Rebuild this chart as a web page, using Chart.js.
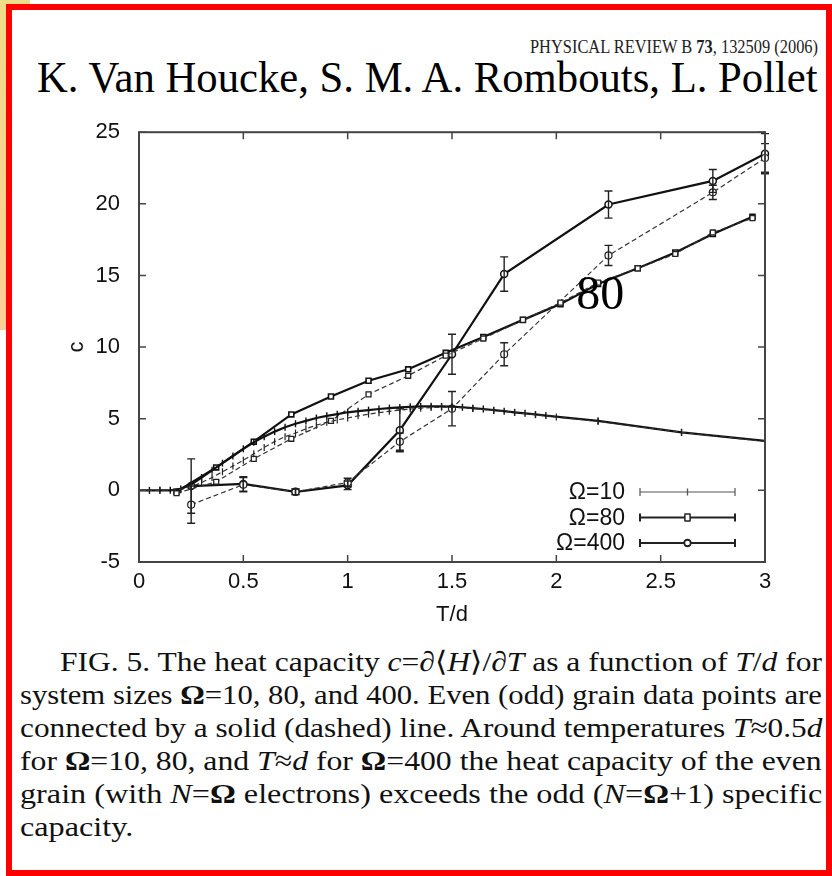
<!DOCTYPE html>
<html>
<head>
<meta charset="utf-8">
<script src="https://cdn.jsdelivr.net/npm/chart.js@4/dist/chart.umd.min.js"></script>
<style>
html, body { margin: 0; padding: 0; background: #fff; }
body { width: 832px; height: 876px; position: relative; overflow: hidden; }
#band { position: absolute; left: 0; top: 0; width: 8px; height: 330px; background: linear-gradient(#eedc88, #fdcf98); }
#bandTop { position: absolute; left: 0; top: 0; width: 30px; height: 6px; background: #eedc88; }
#frame { position: absolute; left: 6px; top: 4px; width: 826px; height: 872px; box-sizing: border-box; border: 6px solid #ff0000; background: #fff; }
.serif { position: absolute; font-family: "Liberation Serif", "Times New Roman", serif; color: #000; white-space: nowrap; line-height: 1; }
#journal { left: 530px; top: 38px; font-size: 18px; color: #222; transform-origin: left center; }
#authors { left: 37px; top: 56px; font-size: 44px; transform-origin: left center; }
.cap { position: absolute; left: 20px; font-family: "Liberation Serif", serif; font-size: 28px; line-height: 33px; white-space: nowrap; color: #111; transform-origin: left center; }
#chartBox { position: absolute; left: 40px; top: 100px; width: 780px; height: 540px; }
</style>
</head>
<body>
<div id="band"></div>
<div id="bandTop"></div>
<div id="frame"></div>
<div class="serif fit" id="journal" data-w="288">PHYSICAL REVIEW B <b>73</b>, 132509 (2006)</div>
<div class="serif fit" id="authors" data-w="781">K. Van Houcke, S. M. A. Rombouts, L. Pollet</div>
<div id="chartBox"><canvas id="heatChart" width="780" height="540"></canvas></div>
<div class="cap fit" style="top:645px; left:60px;" data-w="762">FIG. 5. The heat capacity <i>c</i>=<i>∂</i>⟨<i>H</i>⟩/<i>∂T</i> as a function of <i>T</i>/<i>d</i> for</div>
<div class="cap fit" style="top:678px;" data-w="802">system sizes <b>Ω</b>=10, 80, and 400. Even (odd) grain data points are</div>
<div class="cap fit" style="top:711px;" data-w="802">connected by a solid (dashed) line. Around temperatures <i>T</i>≈0.5<i>d</i></div>
<div class="cap fit" style="top:744px;" data-w="802">for <b>Ω</b>=10, 80, and <i>T</i>≈<i>d</i> for <b>Ω</b>=400 the heat capacity of the even</div>
<div class="cap fit" style="top:777px;" data-w="802">grain (with <i>N</i>=<b>Ω</b> electrons) exceeds the odd (<i>N</i>=<b>Ω</b>+1) specific</div>
<div class="cap" id="lastLine" style="top:810px;">capacity.</div>

<script>
// Omega = 10, even grain (solid) and odd grain (dashed)
const tEven10 = [0, 0.05, 0.1, 0.15, 0.2, 0.25, 0.3, 0.35, 0.4, 0.45, 0.5, 0.55, 0.6, 0.65, 0.7, 0.75, 0.8, 0.85, 0.9, 0.95,
  1.0, 1.05, 1.1, 1.15, 1.2, 1.25, 1.3, 1.35, 1.4, 1.45, 1.5, 1.55, 1.6, 1.65, 1.7, 1.75, 1.8, 1.85, 1.9, 1.95, 2.2, 2.6, 3.0];
const cEven10 = [0, 0, 0, 0, 0.1, 0.4, 0.9, 1.4, 1.9, 2.4, 2.9, 3.35, 3.75, 4.1, 4.4, 4.65, 4.85, 5.05, 5.2, 5.32,
  5.45, 5.53, 5.6, 5.68, 5.74, 5.79, 5.83, 5.86, 5.87, 5.86, 5.84, 5.8, 5.74, 5.68, 5.6, 5.53, 5.45, 5.38, 5.3, 5.22, 4.85, 4.05, 3.45];
const tOdd10 = [0, 0.1, 0.2, 0.25, 0.3, 0.35, 0.4, 0.45, 0.5, 0.55, 0.6, 0.65, 0.7, 0.75, 0.8, 0.85, 0.9, 0.95,
  1.0, 1.05, 1.1, 1.15, 1.2, 1.25, 1.3, 1.35, 1.4, 1.45, 1.5, 1.6, 1.7, 1.8, 1.9, 2.0, 2.2, 2.6, 3.0];
const cOdd10 = [0, 0, 0.05, 0.25, 0.55, 0.9, 1.3, 1.7, 2.1, 2.55, 3.0, 3.4, 3.75, 4.0, 4.3, 4.55, 4.75, 4.92,
  5.05, 5.2, 5.32, 5.42, 5.52, 5.6, 5.68, 5.74, 5.78, 5.8, 5.8, 5.72, 5.58, 5.43, 5.28, 5.12, 4.82, 4.05, 3.42];

// Omega = 80
const tEven80 = [0.18, 0.37, 0.55, 0.73, 0.92, 1.10, 1.29, 1.47, 1.65, 1.84, 2.02, 2.20, 2.39, 2.57, 2.75, 2.94];
const cEven80 = [-0.1, 1.6, 3.4, 5.3, 6.55, 7.65, 8.45, 9.6, 10.7, 11.9, 13.0, 14.4, 15.5, 16.6, 17.9, 19.1];
const tOdd80 = [0.18, 0.37, 0.55, 0.73, 0.92, 1.10, 1.29, 1.47, 1.65, 1.84, 2.02, 2.20, 2.39, 2.57, 2.75, 2.94];
const cOdd80 = [-0.2, 0.6, 2.2, 3.6, 4.85, 6.7, 8.0, 9.4, 10.6, 11.9, 13.1, 14.5, 15.5, 16.5, 18.0, 19.0];

// Omega = 400, with statistical errors
const tEven400 = [0.25, 0.5, 0.75, 1.0, 1.25, 1.5, 1.75, 2.25, 2.75, 3.0];
const cEven400 = [0.3, 0.45, -0.1, 0.35, 4.2, 9.5, 15.1, 19.95, 21.6, 23.5];
const errEven400 = [1.9, 0.5, 0.2, 0.3, 1.5, 1.4, 1.2, 0.95, 0.8, 1.4];
const tOdd400 = [0.25, 0.5, 0.75, 1.0, 1.25, 1.5, 1.75, 2.25, 2.75, 3.0];
const cOdd400 = [-1.0, 0.4, -0.1, 0.55, 3.4, 5.7, 9.5, 16.4, 20.8, 23.2];
const errOdd400 = [1.3, 0.5, 0.2, 0.3, 0.6, 1.2, 0.8, 0.7, 0.5, 1.0];

const xTicks = [0, 0.5, 1, 1.5, 2, 2.5, 3];
const yTicks = [-5, 0, 5, 10, 15, 20, 25];
const legendLabels = ['Ω=10', 'Ω=80', 'Ω=400'];
const noteText = '80';
const noteAt = { x: 2.21, y: 12.65 };

const pts = (t, c) => t.map((x, i) => ({ x: x, y: c[i] }));
const axisFont = { family: '"Liberation Sans", Arial, sans-serif', size: 22 };

// stretch or squeeze each text line to its column width
let capScale = 1;
document.querySelectorAll('.fit').forEach(el => {
  const s = +el.dataset.w / el.offsetWidth;
  el.style.transform = 'scaleX(' + s + ')';
  if (el.classList.contains('cap')) capScale = s;
});
document.getElementById('lastLine').style.transform = 'scaleX(' + capScale + ')';

const solid = { borderColor: '#111', borderWidth: 2.2, showLine: true, fill: false, clip: false };
const dashed = { borderColor: '#333', borderWidth: 1.2, borderDash: [5, 3], showLine: true, fill: false, clip: false };

const datasets = [
  Object.assign({ data: pts(tOdd10, cOdd10), pointStyle: 'line', rotation: 90, pointRadius: 3.5, pointBorderWidth: 1.2, pointBorderColor: '#222' }, dashed),
  Object.assign({ data: pts(tEven10, cEven10), pointStyle: 'line', rotation: 90, pointRadius: 3.5, pointBorderWidth: 1.4, pointBorderColor: '#111' }, solid),
  Object.assign({ data: pts(tOdd80, cOdd80), pointStyle: 'rect', pointRadius: 3.5, pointBorderWidth: 1.3, pointBorderColor: '#222', pointBackgroundColor: '#fff' }, dashed),
  Object.assign({ data: pts(tEven80, cEven80), pointStyle: 'rect', pointRadius: 3.5, pointBorderWidth: 1.6, pointBorderColor: '#111', pointBackgroundColor: '#fff' }, solid),
  Object.assign({ data: pts(tOdd400, cOdd400), errors: errOdd400, pointStyle: 'circle', pointRadius: 3.5, pointBorderWidth: 1.2, pointBorderColor: '#222', pointBackgroundColor: '#fff' }, dashed),
  Object.assign({ data: pts(tEven400, cEven400), errors: errEven400, pointStyle: 'circle', pointRadius: 3.5, pointBorderWidth: 1.5, pointBorderColor: '#111', pointBackgroundColor: '#fff' }, solid)
];

const errorBars = {
  id: 'errorBars',
  afterDatasetsDraw(chart) {
    const ctx = chart.ctx, y = chart.scales.y;
    chart.data.datasets.forEach((ds, i) => {
      if (!ds.errors) return;
      const meta = chart.getDatasetMeta(i);
      ctx.save();
      ctx.strokeStyle = '#222';
      ctx.lineWidth = 1.4;
      meta.data.forEach((pt, j) => {
        const e = ds.errors[j];
        if (!e) return;
        const v = ds.data[j].y;
        const top = y.getPixelForValue(v + e), bot = y.getPixelForValue(v - e);
        ctx.beginPath();
        ctx.moveTo(pt.x, top); ctx.lineTo(pt.x, bot);
        ctx.moveTo(pt.x - 4, top); ctx.lineTo(pt.x + 4, top);
        ctx.moveTo(pt.x - 4, bot); ctx.lineTo(pt.x + 4, bot);
        ctx.stroke();
      });
      ctx.restore();
    });
  }
};

// gnuplot-style box with inward ticks, key and the size note
const frameAndKey = {
  id: 'frameAndKey',
  afterDraw(chart) {
    const { ctx, chartArea: a, scales: { x, y } } = chart;
    ctx.save();
    ctx.strokeStyle = '#444';
    ctx.lineWidth = 2;
    ctx.strokeRect(a.left, a.top, a.right - a.left, a.bottom - a.top);
    ctx.lineWidth = 1.5;
    ctx.beginPath();
    xTicks.forEach(v => {
      const px = x.getPixelForValue(v);
      ctx.moveTo(px, a.bottom); ctx.lineTo(px, a.bottom - 7);
      ctx.moveTo(px, a.top); ctx.lineTo(px, a.top + 7);
    });
    yTicks.forEach(v => {
      const py = y.getPixelForValue(v);
      ctx.moveTo(a.left, py); ctx.lineTo(a.left + 7, py);
      ctx.moveTo(a.right, py); ctx.lineTo(a.right - 7, py);
    });
    ctx.stroke();

    // key
    ctx.font = '23px "Liberation Sans", Arial, sans-serif';
    ctx.fillStyle = '#111';
    ctx.textAlign = 'right';
    ctx.textBaseline = 'middle';
    const styles = ['line', 'rect', 'circle'];
    legendLabels.forEach((lab, k) => {
      const ly = a.bottom - 70 + k * 25.5;
      ctx.fillText(lab, a.right - 140, ly + 1);
      const x0 = a.right - 125, x1 = a.right - 30, xm = (x0 + x1) / 2;
      ctx.strokeStyle = k === 0 ? '#555' : '#222';
      ctx.lineWidth = k === 0 ? 1.2 : 2;
      ctx.beginPath();
      ctx.moveTo(x0, ly); ctx.lineTo(x1, ly);
      ctx.moveTo(x0, ly - 4); ctx.lineTo(x0, ly + 4);
      ctx.moveTo(x1, ly - 4); ctx.lineTo(x1, ly + 4);
      ctx.stroke();
      ctx.lineWidth = 1.3;
      Chart.helpers.drawPoint(ctx, { pointStyle: styles[k], rotation: k === 0 ? 90 : 0, radius: 3.5, borderWidth: 1.3 }, xm, ly);
      if (k > 0) {
        ctx.fillStyle = '#fff';
        ctx.strokeStyle = '#222';
        ctx.beginPath();
        if (k === 1) ctx.rect(xm - 2.5, ly - 3.5, 5, 7); else ctx.arc(xm, ly, 3, 0, Math.PI * 2);
        ctx.fill(); ctx.stroke();
        ctx.fillStyle = '#111';
      }
    });

    ctx.font = '48px "Liberation Serif", "Times New Roman", serif';
    ctx.fillStyle = '#000';
    ctx.textAlign = 'center';
    ctx.textBaseline = 'alphabetic';
    ctx.fillText(noteText, x.getPixelForValue(noteAt.x), y.getPixelForValue(noteAt.y));
    ctx.restore();
  }
};

new Chart(document.getElementById('heatChart').getContext('2d'), {
  type: 'scatter',
  data: { datasets: datasets },
  options: {
    responsive: false,
    animation: false,
    layout: { padding: { top: 18, right: 55, left: 0, bottom: 0 } },
    plugins: { legend: { display: false }, tooltip: { enabled: false } },
    scales: {
      x: {
        type: 'linear', min: 0, max: 3,
        afterBuildTicks: s => { s.ticks = xTicks.map(v => ({ value: v })); },
        afterFit: s => { s.height = 78; },
        grid: { display: false, drawTicks: false },
        border: { display: false },
        ticks: { padding: 7, color: '#111', font: axisFont, maxRotation: 0, autoSkip: false, callback: v => String(v) },
        title: { display: true, text: 'T/d', color: '#111', font: axisFont, padding: { top: 0, bottom: 12 } }
      },
      y: {
        type: 'linear', min: -5, max: 25,
        afterBuildTicks: s => { s.ticks = yTicks.map(v => ({ value: v })); },
        afterFit: s => { s.width = 99; },
        grid: { display: false, drawTicks: false },
        border: { display: false },
        ticks: { padding: 19, color: '#111', font: axisFont, autoSkip: false, callback: v => String(v) },
        title: { display: true, text: 'c', color: '#111', font: axisFont, padding: { top: 24, bottom: 0 } }
      }
    }
  },
  plugins: [errorBars, frameAndKey]
});
</script>
</body>
</html>
